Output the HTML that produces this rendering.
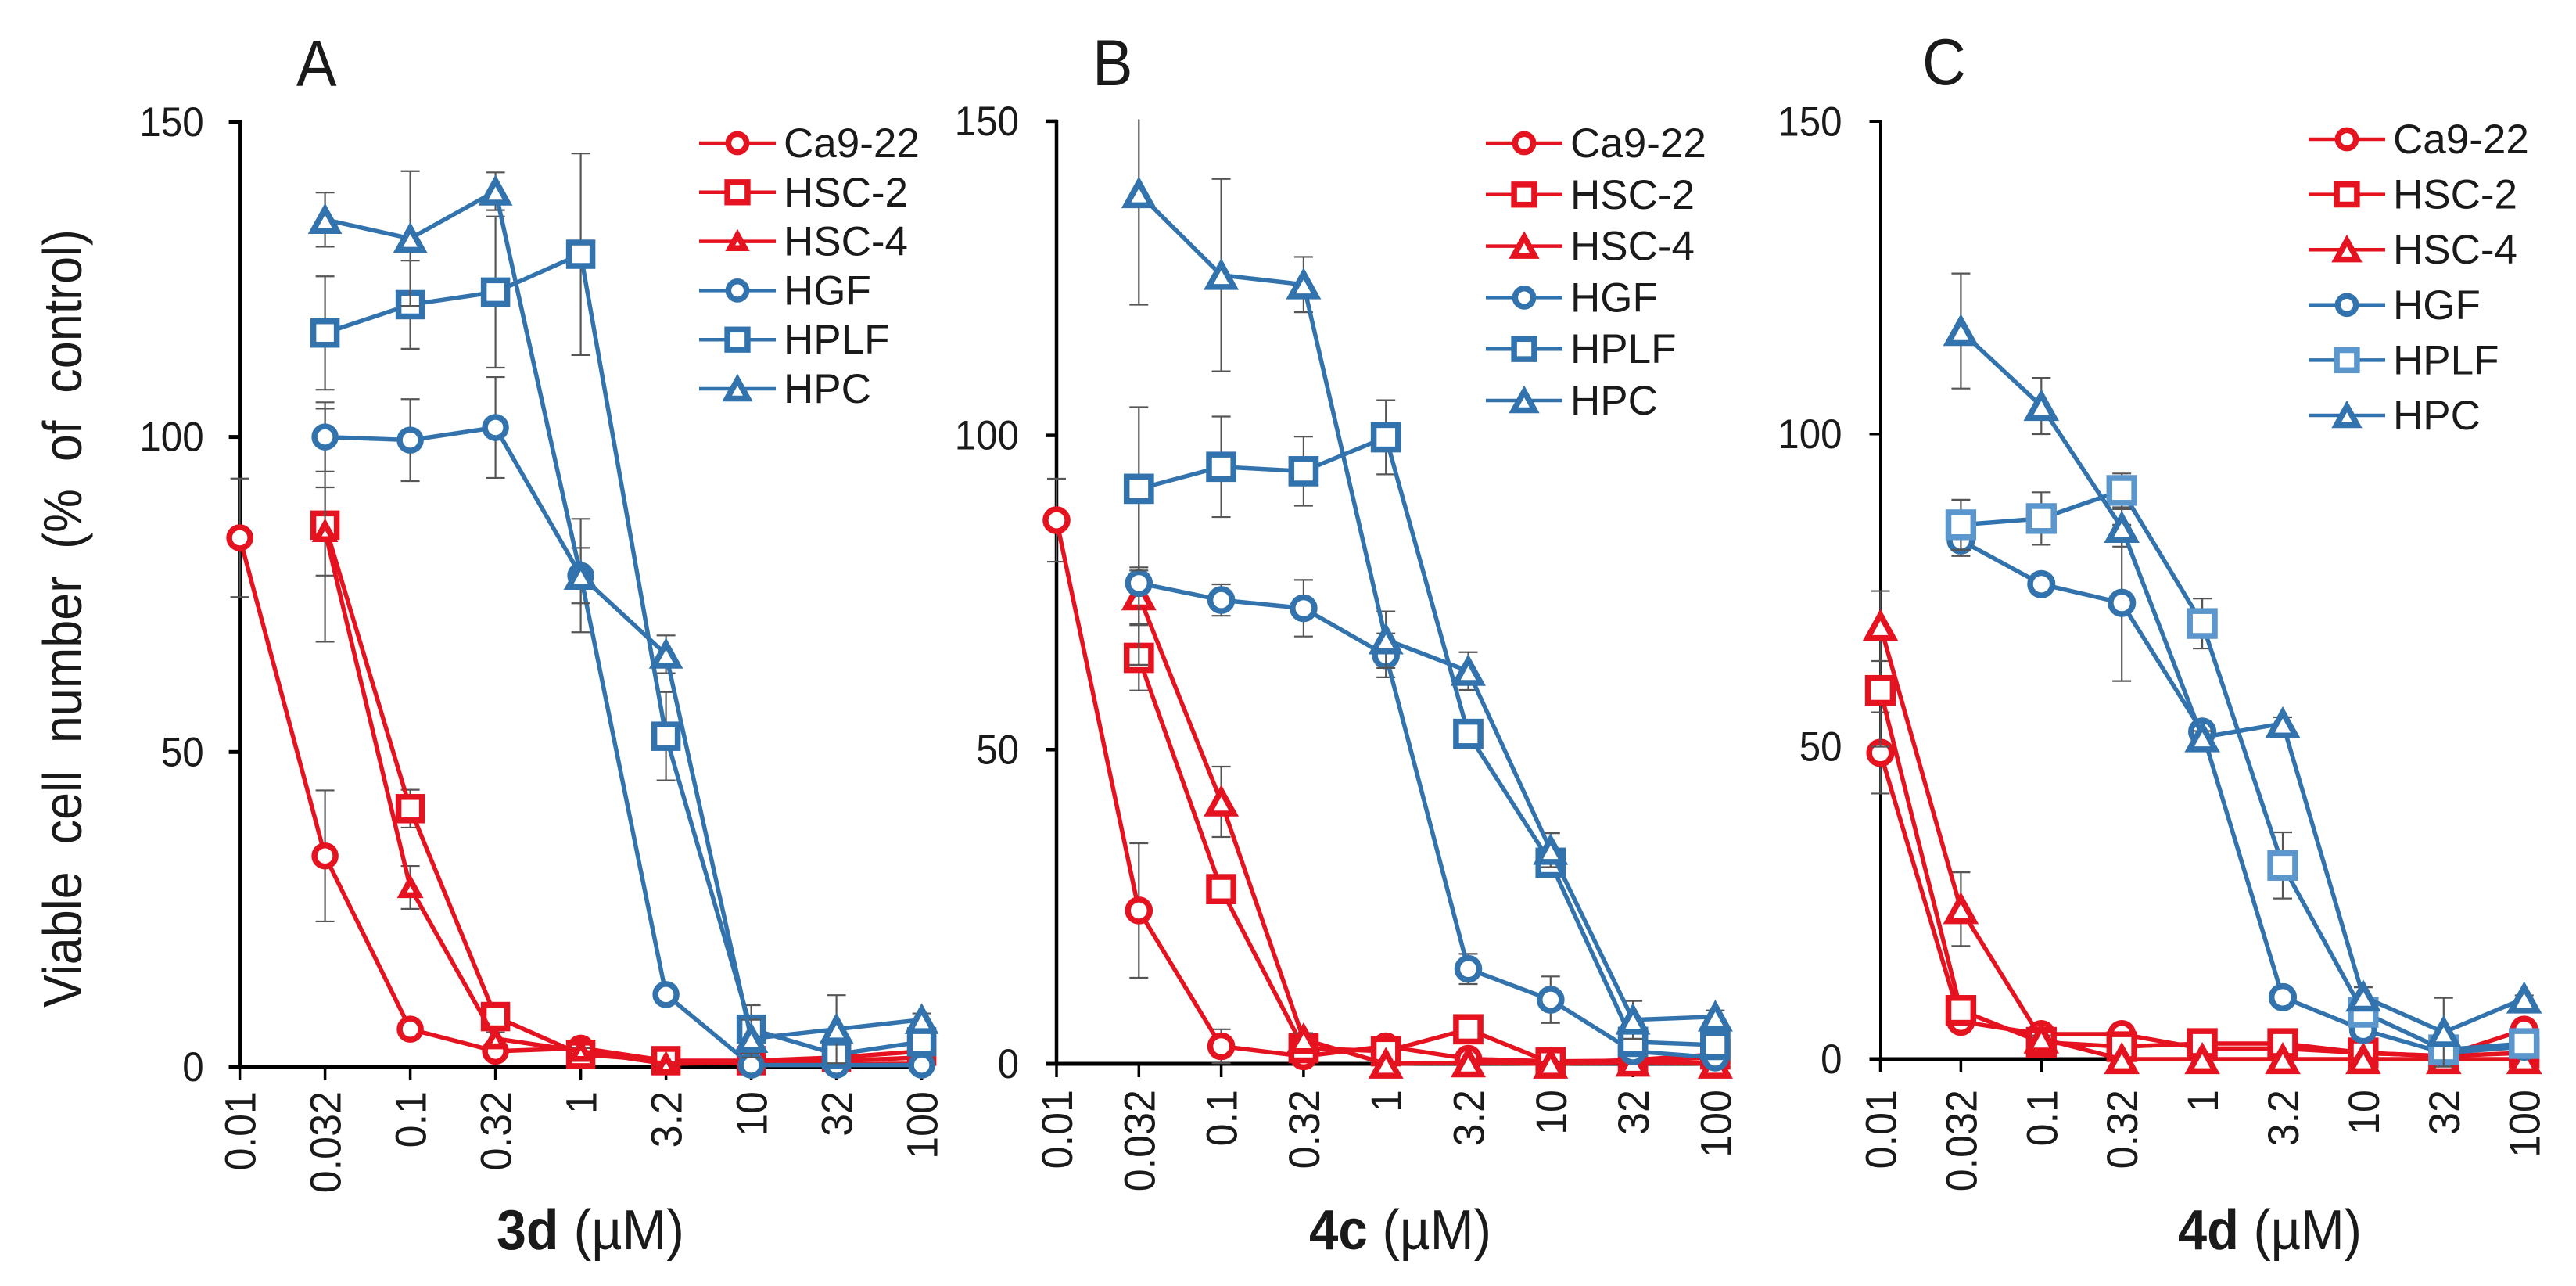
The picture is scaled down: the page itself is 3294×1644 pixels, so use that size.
<!DOCTYPE html>
<html>
<head>
<meta charset="utf-8">
<title>Viable cell number dose-response charts</title>
<style>
html,body{margin:0;padding:0;background:#fff;}
svg{display:block;}
text{font-family:"Liberation Sans",sans-serif;fill:#1a1a1a;}
</style>
</head>
<body>
<svg id="figure" xmlns="http://www.w3.org/2000/svg" width="3294" height="1644" viewBox="0 0 3294 1644">
<rect width="3294" height="1644" fill="#fff"/>
<text transform="translate(104,1288) rotate(-90)" font-size="70" textLength="995" lengthAdjust="spacingAndGlyphs" xml:space="preserve" fill="#333">Viable  cell  number  (%  of  control)</text>
<text transform="translate(379,110) scale(.92,1)" font-size="84">A</text>
<text transform="translate(1397,109) scale(.92,1)" font-size="84">B</text>
<text transform="translate(2458,108) scale(.92,1)" font-size="84">C</text>
<text x="635" y="1597" font-size="72" textLength="240" lengthAdjust="spacingAndGlyphs"><tspan font-weight="bold">3d</tspan> (µM)</text>
<text x="1674" y="1597" font-size="72" textLength="233" lengthAdjust="spacingAndGlyphs"><tspan font-weight="bold">4c</tspan> (µM)</text>
<text x="2785" y="1597" font-size="72" textLength="235" lengthAdjust="spacingAndGlyphs"><tspan font-weight="bold">4d</tspan> (µM)</text>
</svg>
<script>
const categories = ["0.01","0.032","0.1","0.32","1","3.2","10","32","100"];
const yTicks = [0,50,100,150];
const seriesNames = ["Ca9-22","HSC-2","HSC-4","HGF","HPLF","HPC"];

// Panel A (3d)
const aCa922 = [84,33.5,6,2.5,3,1,0.5,0.5,0.5];
const aHsc2  = [null,86,41,8,2,1,1,1.5,2.5];
const aHsc4  = [null,85,28.5,4.5,2.5,0.5,0.7,1,1.5];
const aHgf   = [null,100,99.5,101.5,78,11.5,0.3,0.3,0.3];
const aHplf  = [null,116.5,121,123,129,52.5,6,2,4];
const aHpc   = [null,134.5,131.5,139,78,65.5,4.5,6,7.5];
const aCa922Err = [9.4,10.4,0.5,0.5,0.5,0.3,0.2,0.2,0.2];
const aHsc2Err  = [null,18.5,3,1,0.5,0.3,0.3,0.3,0.3];
const aHsc4Err  = [null,7,3.4,1,0.5,0.3,0.3,0.3,0.3];
const aHgfErr   = [null,5.5,6.5,8,9,1,0.2,0.2,0.2];
const aHplfErr  = [null,9,7,12,16,7,3.8,1,1];
const aHpcErr   = [null,4.3,10.7,3,4.4,3,3,5.4,1];

// Panel B (4c)
const bCa922 = [86.5,24.4,2.8,1.2,2.8,0.8,0.4,0.5,1];
const bHsc2  = [null,64.6,27.8,2.5,2,5.5,0.2,0.6,1.5];
const bHsc4  = [null,74.5,41.7,3.9,0,0.2,0,0.3,0];
const bHgf   = [null,76.5,73.8,72.5,65,15.1,10.2,2,1];
const bHplf  = [null,91.5,95,94.3,99.7,52.5,32,3.5,3];
const bHpc   = [null,138.5,125.5,124,67.5,62.5,34,7,7.5];
const bCa922Err = [6.6,10.7,2.7,0.5,0.5,0.3,0.2,0.2,0.2];
const bHsc2Err  = [null,5.2,1,1,0.5,0.5,0.2,0.2,0.2];
const bHsc4Err  = [null,4.5,5.6,1,0.2,0.2,0.2,0.2,0.2];
const bHgfErr   = [null,13,2.5,4.5,3.5,2.4,3.7,0.5,0.5];
const bHplfErr  = [null,13,8,5.5,5.9,2,2,1,0.5];
const bHpcErr   = [null,17.7,15.3,4.4,4.5,3,2.7,3,1];

// Panel C (4d)
const cCa922 = [49,6,4,4,1.7,1.7,1,0.5,4.7];
const cHsc2  = [59,7.8,2.7,2,2.5,2.5,1,0.5,1];
const cHsc4  = [69.3,24,3.3,0,0,0,0,0,0];
const cHgf   = [null,83,76,73,52.4,9.9,4.7,1,2];
const cHplf  = [null,85.5,86.5,91,69.7,31,7.5,1.5,2.5];
const cHpc   = [null,116.5,104.5,85,51.5,53.7,10,4.3,9.7];
const cCa922Err = [6.5,0.5,0.5,0.5,0.3,0.3,0.2,0.2,0.5];
const cHsc2Err  = [9,0.5,0.5,0.3,0.3,0.3,0.2,0.2,0.2];
const cHsc4Err  = [5.6,5.9,0.5,0.2,0.2,0.2,0.2,0.2,0.2];
const cHgfErr   = [null,2.5,1,12.5,0.5,0.5,0.5,0.3,0.3];
const cHplfErr  = [null,4,4.2,2.7,4,5.3,1,0.5,0.5];
const cHpcErr   = [null,9.2,4.5,3,1,1,1.5,5.5,0.5];

const NS = "http://www.w3.org/2000/svg";
const svg = document.getElementById("figure");
const RED = "#e5121f";
const BLUE = "#3273ad";
const LIGHT = "#5b96cc";
const ERR = "#555";

function make(parent, tag, attrs, content) {
  const e = document.createElementNS(NS, tag);
  for (const k in attrs) e.setAttribute(k, attrs[k]);
  if (content !== undefined) e.textContent = content;
  parent.appendChild(e);
  return e;
}

function marker(parent, kind, cx, cy, s, color, label) {
  const sw = 7.5;
  let m;
  if (kind === "circle") {
    m = make(parent, "circle", {cx: cx, cy: cy, r: 13.5 * s, fill: "#fff", stroke: color, "stroke-width": sw});
  } else if (kind === "square") {
    const h = 15 * s;
    m = make(parent, "rect", {x: cx - h, y: cy - h, width: 2 * h, height: 2 * h, fill: "#fff", stroke: color, "stroke-width": sw});
  } else {
    const w = 15.5 * s, up = 13.5 * s, dn = 14.5 * s;
    m = make(parent, "polygon", {points: (cx) + "," + (cy - up) + " " + (cx + w) + "," + (cy + dn) + " " + (cx - w) + "," + (cy + dn), fill: "#fff", stroke: color, "stroke-width": sw});
  }
  
  
  return m;
}

const kinds = ["circle","square","triangle","circle","square","triangle"];
const colors = [RED,RED,RED,BLUE,BLUE,BLUE];

function drawPanel(id, cfg, values, errors) {
  const g = make(svg, "g", {});
  
  
  const xAt = i => cfg.x0 + cfg.dx * i;
  const yAt = v => cfg.y0 - v * cfg.unit;
  const xEnd = xAt(categories.length - 1);

  // y axis
  const yAxis = make(g, "line", {x1: cfg.x0, x2: cfg.x0, y1: yAt(150) - 2, y2: yAt(0) + 2, stroke: "#000", "stroke-width": cfg.vw});
  
  
  yTicks.forEach(t => {
    const tick = make(g, "line", {x1: cfg.x0 - 14, x2: cfg.x0, y1: yAt(t), y2: yAt(t), stroke: "#000", "stroke-width": cfg.vw});
    
    
    const lab = make(g, "text", {transform: "translate(" + (cfg.x0 - cfg.labelGap) + "," + (yAt(t) + 18) + ") scale(.93,1)", "font-size": 53, "text-anchor": "end"}, String(t));
    
    
  });

  // x axis
  const xAxis = make(g, "line", {x1: cfg.x0 - 14, x2: xEnd + 2, y1: yAt(0), y2: yAt(0), stroke: "#000", "stroke-width": cfg.hw});
  
  
  categories.forEach((c, i) => {
    const tick = make(g, "line", {x1: xAt(i), x2: xAt(i), y1: yAt(0), y2: yAt(0) + 17, stroke: "#000", "stroke-width": 3.5});
    
    
    const lab = make(g, "text", {transform: "translate(" + (xAt(i) + 20) + "," + cfg.labelTop + ") rotate(-90) scale(.93,1)", "font-size": 56, "text-anchor": "end", fill: "#222"}, c);
    
    
  });

  // series
  values.forEach((vals, si) => {
    const name = seriesNames[si];
    const lineColor = colors[si];
    const markColor = (id === "c" && si === 4) ? LIGHT : colors[si];
    const sg = make(g, "g", {});
    
    
    vals.forEach((v, i) => {
      const e = errors[si][i];
      if (v === null || e === null) return;
      const topV = v + e;
      const clipped = topV > 150.3;
      const top = yAt(Math.min(topV, 150.3)), bot = yAt(v - e), x = xAt(i);
      const bar = make(sg, "line", {x1: x, x2: x, y1: top, y2: bot, stroke: ERR, "stroke-width": 2.2});
      
      
      if (!clipped) {
        const cap = make(sg, "line", {x1: x - 12, x2: x + 12, y1: top, y2: top, stroke: ERR, "stroke-width": 2.2});
        
        
      }
      const capB = make(sg, "line", {x1: x - 12, x2: x + 12, y1: bot, y2: bot, stroke: ERR, "stroke-width": 2.2});
      
      
    });
    const pts = [];
    vals.forEach((v, i) => { if (v !== null) pts.push(xAt(i) + "," + yAt(v)); });
    const line = make(sg, "polyline", {points: pts.join(" "), fill: "none", stroke: lineColor, "stroke-width": 5.5, "stroke-linejoin": "round"});
    
    
    const ms = (si === 2 && id === "a") ? 0.68 : cfg.ms;
    vals.forEach((v, i) => {
      if (v !== null) marker(sg, kinds[si], xAt(i), yAt(v), ms, markColor, 'data-point');
    });
  });

  // legend
  const lg = make(g, "g", {});
  
  
  seriesNames.forEach((n, si) => {
    const y = cfg.legY + cfg.legDy * si;
    const markColor = (id === "c" && si === 4) ? LIGHT : colors[si];
    const entry = make(lg, "g", {});
    
    
    const l = make(entry, "line", {x1: cfg.legX, x2: cfg.legX + 98, y1: y, y2: y, stroke: colors[si], "stroke-width": 4.5});
    
    
    const ms = (si === 2 && id === "a") ? 0.6 : 0.86;
    marker(entry, kinds[si], cfg.legX + 49, y, ms, markColor, 'legend-marker');
    const t = make(entry, "text", {x: cfg.legX + 108, y: y + 18, "font-size": 53}, n);
    
    
  });
}

drawPanel("a", {x0: 306.6, dx: 109, y0: 1364, unit: 8.054, vw: 5, hw: 6, labelGap: 46, labelTop: 1395, ms: 1, legX: 894, legY: 183, legDy: 62.8},
  [aCa922,aHsc2,aHsc4,aHgf,aHplf,aHpc], [aCa922Err,aHsc2Err,aHsc4Err,aHgfErr,aHplfErr,aHpcErr]);
drawPanel("b", {x0: 1351, dx: 105.3, y0: 1360, unit: 8.034, vw: 4.5, hw: 5, labelGap: 48, labelTop: 1393, ms: 1.04, legX: 1900, legY: 183, legDy: 65.8},
  [bCa922,bHsc2,bHsc4,bHgf,bHplf,bHpc], [bCa922Err,bHsc2Err,bHsc4Err,bHgfErr,bHplfErr,bHpcErr]);
drawPanel("c", {x0: 2404.5, dx: 102.9, y0: 1354, unit: 7.99, vw: 3, hw: 5, labelGap: 49, labelTop: 1393, ms: 1.06, legX: 2952, legY: 178, legDy: 70.6},
  [cCa922,cHsc2,cHsc4,cHgf,cHplf,cHpc], [cCa922Err,cHsc2Err,cHsc4Err,cHgfErr,cHplfErr,cHpcErr]);
</script>
</body>
</html>
